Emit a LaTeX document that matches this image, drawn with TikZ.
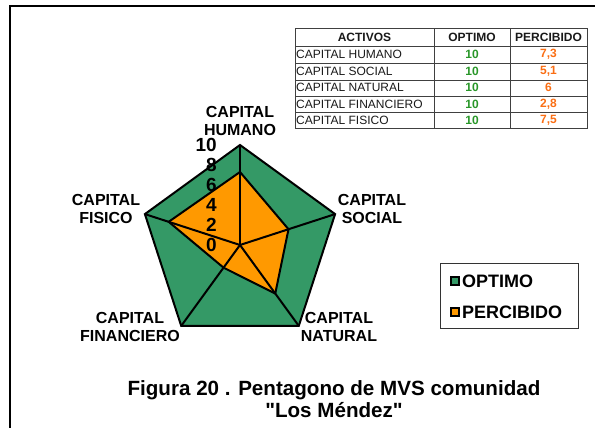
\documentclass[tikz,border=0pt]{standalone}
\usepackage{fontspec}
\setmainfont{Liberation Sans}
\usepackage{tikz}
\definecolor{optimo}{RGB}{52,153,102}
\definecolor{percibido}{RGB}{255,153,0}
\definecolor{txtverde}{RGB}{40,150,40}
\definecolor{txtnaranja}{RGB}{250,110,20}
\tikzset{
  eje/.style={font=\bfseries\fontsize{16}{18}\selectfont,align=center,inner sep=0},
  escala/.style={font=\bfseries\fontsize{19}{19}\selectfont,anchor=east,inner sep=0},
  celda/.style={font=\fontsize{12}{12}\selectfont,inner sep=0,text=black!90},
  valor/.style={celda,font=\bfseries\fontsize{12}{12}\selectfont},
  marca/.style={draw=black,line width=1.2pt,minimum size=8,inner sep=0},
  ley/.style={font=\bfseries\fontsize{18}{18}\selectfont,anchor=west,inner sep=0}
}
\begin{document}
\begin{tikzpicture}[x=1pt,y=1pt]
    \useasboundingbox (0,0) rectangle (595,428);
    % marco
    \draw[line width=1.5pt] (10,0) -- (10,422) -- (595,422);
    % pentagono
    \coordinate (O) at (240,183);
    \foreach\i/\ang in {1/90,2/18,3/-54,4/-126,5/162}{
     \coordinate (v\i) at ([shift={(\ang:100)}]O);}
    \foreach\i/\ang/\r in {1/90/73,2/18/51,3/-54/60,4/-126/28,5/162/75}{
     \coordinate (p\i) at ([shift={(\ang:\r)}]O);}
    \draw[fill=optimo,line width=2pt] (v1) -- (v2) -- (v3) -- (v4) -- (v5) -- cycle;
    \draw[fill=percibido,line width=2pt] (p1) -- (p2) -- (p3) -- (p4) -- (p5) -- cycle;
    \foreach\i in {1,...,5}{
     \draw[line width=2pt] (O) -- (v\i);}
    % escala
    \foreach\k in {0,...,5}{
     \pgfmathtruncatemacro\val{2*\k}
     \node[escala] (e\k) at (217,183+20*\k) {\val};}
    % rotulos
    \node[eje] (humano) at (240,307) {CAPITAL\\HUMANO};
    \node[eje] (social) at (372,219) {CAPITAL\\SOCIAL};
    \node[eje] (fisico) at (106,219) {CAPITAL\\FISICO};
    \node[eje] (financiero) at (130,101) {CAPITAL\\FINANCIERO};
    \node[eje] (natural) at (339,101) {CAPITAL\\NATURAL};
    % tabla
    \draw[black!75,line width=0.8pt] (295,300) rectangle (587,400);
    \foreach\y in {382,365,348,332,316}{
     \draw[black!75,line width=0.8pt] (295,\y) -- (587,\y);}
    \foreach\x in {434,510}{
     \draw[black!75,line width=0.8pt] (\x,300) -- (\x,400);}
    \node[valor] (hactivos) at (364.5,391) {ACTIVOS};
    \node[valor] (hoptimo) at (472,391) {OPTIMO};
    \node[valor] (hpercibido) at (548.5,391) {PERCIBIDO};
    \foreach\nombre/\val [count=\i] in {HUMANO/{7,3},SOCIAL/{5,1},NATURAL/6,FINANCIERO/{2,8},FISICO/{7,5}}{
     \node[celda,anchor=west] (t\i) at (296,390-16.5*\i) {CAPITAL \nombre};
     \node[valor,text=txtverde] (o\i) at (472,390-16.5*\i) {10};
     \node[valor,text=txtnaranja] (q\i) at (548.5,390-16.5*\i) {\val};}
    % leyenda
    \node[draw=black!80,line width=1pt,minimum width=138,minimum height=65,inner sep=0] (leyenda) at (509,131.5) {};
    \node[marca,fill=optimo] (m1) at (455,147) {};
    \node[marca,fill=percibido] (m2) at (455,116) {};
    \node[ley] (l1) at (462,147) {OPTIMO};
    \node[ley] (l2) at (462,116) {PERCIBIDO};
    % titulo
    \node[font=\bfseries\fontsize{20.6}{22}\selectfont,align=center,inner sep=0] (titulo) at (334,29)
      {Figura 20 . Pentagono de MVS comunidad\\\textquotedbl Los Méndez\textquotedbl};
\end{tikzpicture}
\end{document}
